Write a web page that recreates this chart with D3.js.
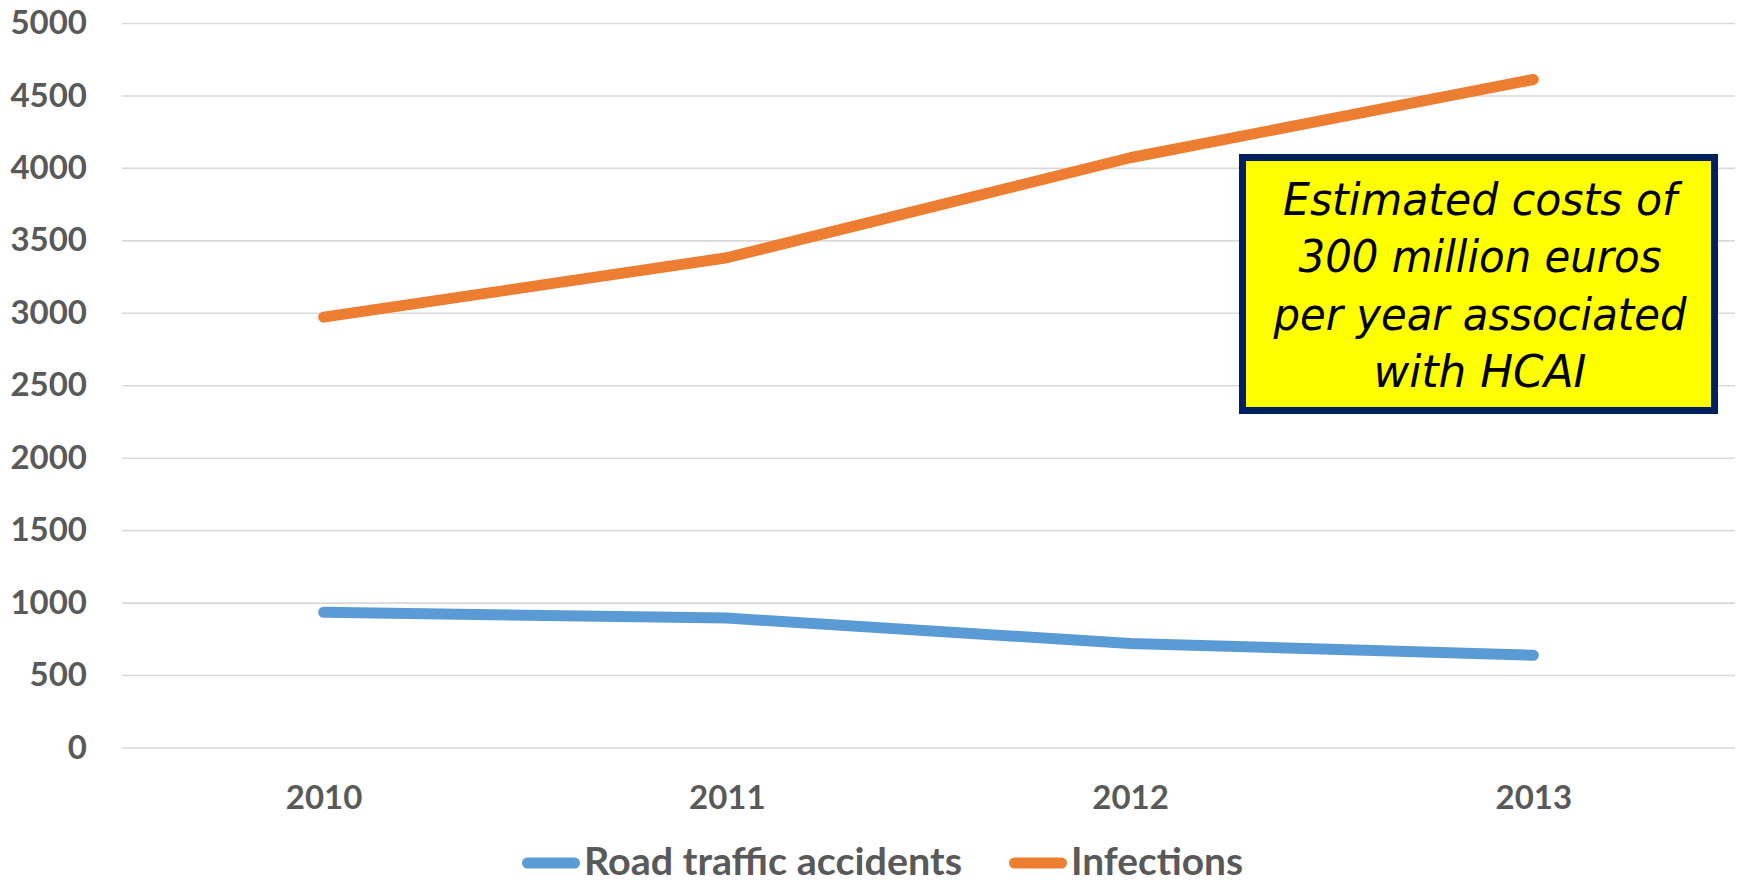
<!DOCTYPE html>
<html lang="en">
<head>
  <meta charset="UTF-8">
  <title>HCAI vs road traffic accidents</title>
  <script src="https://cdn.jsdelivr.net/npm/d3@7"></script>
  <style>
    body { margin: 0; background: #fff; }
  </style>
</head>
<body>
<svg></svg>
<script>
  const years = ["2010", "2011", "2012", "2013"]
  const roadAccidents = [933, 893, 718, 637]
  const infections = [2970, 3380, 4070, 4610]
  const yTicks = [0, 500, 1000, 1500, 2000, 2500, 3000, 3500, 4000, 4500, 5000]
  const seriesNames = ["Road traffic accidents", "Infections"]
  const noteLines = ["Estimated costs of", "300 million euros", "per year associated", "with HCAI"]

  const width = 1742, height = 885
  const margin = ({top: 23, right: 7, bottom: 137.5, left: 122})
  const colors = ["#5b9bd5", "#ed7d31"]
  const font = "Lato, 'Open Sans', sans-serif"

  const svg = d3.select('svg')
      .attr('width', width)
      .attr('height', height)
      .attr('viewBox', [0, 0, width, height])

  const x = d3.scalePoint()
      .domain(years)
      .range([margin.left, width - margin.right])
      .padding(0.5)

  const y = d3.scaleLinear()
      .domain([0, 5000])
      .range([height - margin.bottom, margin.top])

  // gridlines + y labels
  svg.append("g")
      .attr("transform", `translate(${margin.left},0)`)
      .call(d3.axisLeft(y).tickValues(yTicks).tickFormat(d3.format("d"))
          .tickSize(-(width - margin.left - margin.right)).tickPadding(35))
      .call(g => g.select(".domain").remove())
      .call(g => g.selectAll(".tick line").attr("stroke", "#d9d9d9").attr("stroke-width", 1.6))
      .call(g => g.selectAll(".tick text")
          .attr("fill", "#595959")
          .attr("font-family", font)
          .attr("font-weight", "bold")
          .attr("font-size", 33))

  // x labels
  svg.append("g")
      .attr("transform", `translate(0,${height - margin.bottom})`)
      .call(d3.axisBottom(x).tickSize(0).tickPadding(38))
      .call(g => g.select(".domain").remove())
      .call(g => g.selectAll(".tick text")
          .attr("fill", "#595959")
          .attr("font-family", font)
          .attr("font-weight", "bold")
          .attr("font-size", 33))

  const line = d3.line()
      .x((d, i) => x(years[i]))
      .y(d => y(d))

  svg.selectAll(".series")
      .data([roadAccidents, infections])
      .join("path")
      .attr("class", "series")
      .attr("fill", "none")
      .attr("stroke", (d, i) => colors[i])
      .attr("stroke-width", 11)
      .attr("stroke-linecap", "round")
      .attr("stroke-linejoin", "round")
      .attr("d", line)

  // legend
  const legendItems = [
    {name: seriesNames[0], x0: 522, len: 378},
    {name: seriesNames[1], x0: 1009, len: 172}
  ]
  const lg = svg.append("g")
  legendItems.forEach((d, i) => {
    lg.append("line")
        .attr("x1", d.x0 + 5.5).attr("x2", d.x0 + 52.5)
        .attr("y1", 863).attr("y2", 863)
        .attr("stroke", colors[i])
        .attr("stroke-width", 11)
        .attr("stroke-linecap", "round")
    lg.append("text")
        .attr("x", d.x0 + 62)
        .attr("y", 875)
        .attr("fill", "#595959")
        .attr("font-family", font)
        .attr("font-weight", "bold")
        .attr("font-size", 38)
        .attr("textLength", d.len)
        .attr("lengthAdjust", "spacingAndGlyphs")
        .text(d.name)
  })

  // annotation box
  const note = svg.append("g")
  note.append("rect")
      .attr("x", 1242.5).attr("y", 157.5)
      .attr("width", 472).attr("height", 253)
      .attr("fill", "#ffff00")
      .attr("stroke", "#002060")
      .attr("stroke-width", 7)

  const noteWidths = [394, 363, 413, 213]
  note.selectAll("text")
      .data(noteLines)
      .join("text")
      .attr("x", 1480)
      .attr("y", (d, i) => 215 + i * 57.3)
      .attr("text-anchor", "middle")
      .attr("font-family", "'DejaVu Sans', Verdana, sans-serif")
      .attr("font-style", "italic")
      .attr("font-size", 44)
      .attr("fill", "#000")
      .attr("textLength", (d, i) => noteWidths[i])
      .attr("lengthAdjust", "spacingAndGlyphs")
      .text(d => d)
</script>
</body>
</html>
